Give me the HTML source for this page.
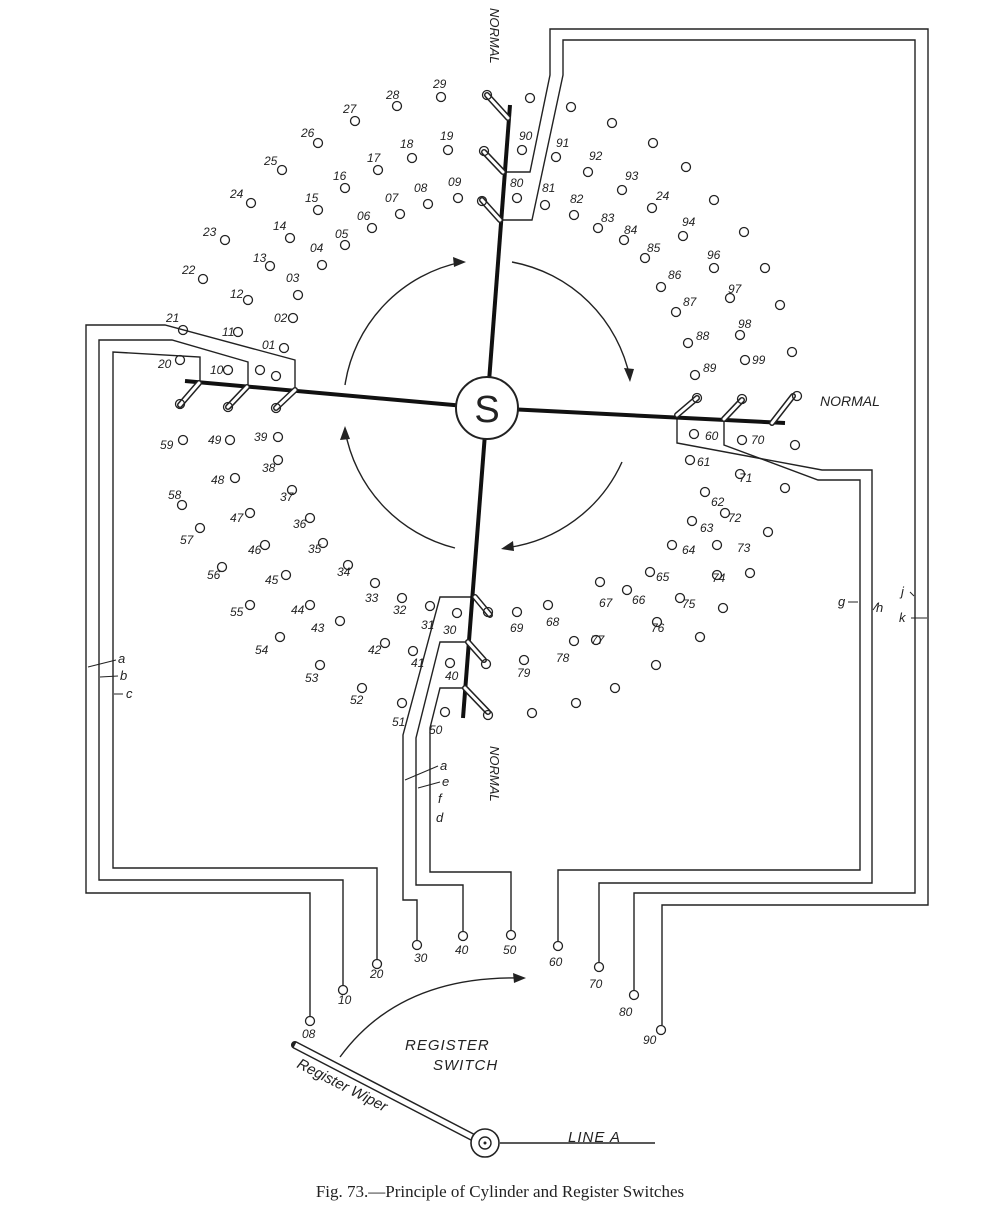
<!DOCTYPE html>
<html><head><meta charset="utf-8"><style>
html,body{margin:0;padding:0;background:#fff}
svg{display:block}
text{font-family:"Liberation Sans",sans-serif;fill:#222}
.n{font-size:12px;font-style:italic}
</style></head><body>
<svg width="1000" height="1224" viewBox="0 0 1000 1224" xmlns="http://www.w3.org/2000/svg">
<rect width="1000" height="1224" fill="#fff"/>
<g fill="none" stroke="#222" stroke-width="1.4">
<!-- left bundle -->
<polyline points="295,390 295,360 165,325 86,325 86,893 310,893 310,1016"/>
<polyline points="248,387 248,362 172,340 99,340 99,880 343,880 343,985"/>
<polyline points="200,383 200,357 113,352 113,868 377,868 377,959"/>
<!-- bottom bundle -->
<polyline points="475,597 440,597 403,735 403,900 417,900 417,940"/>
<polyline points="468,642 440,642 416,738 416,885 463,885 463,931"/>
<polyline points="465,688 440,688 430,728 430,872 511,872 511,930"/>
<!-- top bundle -->
<polyline points="503,172 530,172 550,75 550,29 928,29 928,905 662,905 662,1025"/>
<polyline points="500,220 532,220 563,75 563,40 915,40 915,893 634,893 634,990"/>
<!-- right bundle -->
<polyline points="677,415 677,443 822,470 872,470 872,883 599,883 599,962"/>
<polyline points="724,419 724,445 818,480 860,480 860,870 558,870 558,941"/>
</g>
<!-- arms -->
<g stroke="#111" stroke-width="4">
<line x1="487" y1="408" x2="510" y2="105"/>
<line x1="487" y1="408" x2="185" y2="381"/>
<line x1="487" y1="408" x2="785" y2="423"/>
<line x1="487" y1="408" x2="463" y2="718"/>
</g>
<!-- brushes -->
<g stroke="#222" stroke-width="6" stroke-linecap="round">
<line x1="508" y1="118" x2="487" y2="95"/><line x1="503" y1="172" x2="484" y2="152"/><line x1="500" y1="220" x2="482" y2="200"/>
<line x1="199" y1="383" x2="180" y2="405"/><line x1="247" y1="387" x2="228" y2="407"/><line x1="295" y1="390" x2="276" y2="408"/>
<line x1="677" y1="415" x2="697" y2="398"/><line x1="724" y1="419" x2="742" y2="400"/><line x1="772" y1="423" x2="793" y2="396"/>
<line x1="475" y1="597" x2="490" y2="615"/><line x1="468" y1="642" x2="484" y2="660"/><line x1="465" y1="688" x2="488" y2="712"/>
</g>
<g stroke="#fff" stroke-width="3" stroke-linecap="round">
<line x1="508" y1="118" x2="487" y2="95"/><line x1="503" y1="172" x2="484" y2="152"/><line x1="500" y1="220" x2="482" y2="200"/>
<line x1="199" y1="383" x2="180" y2="405"/><line x1="247" y1="387" x2="228" y2="407"/><line x1="295" y1="390" x2="276" y2="408"/>
<line x1="677" y1="415" x2="697" y2="398"/><line x1="724" y1="419" x2="742" y2="400"/><line x1="772" y1="423" x2="793" y2="396"/>
<line x1="475" y1="597" x2="490" y2="615"/><line x1="468" y1="642" x2="484" y2="660"/><line x1="465" y1="688" x2="488" y2="712"/>
</g>
<!-- center S -->
<circle cx="487" cy="408" r="31" fill="#fff" stroke="#222" stroke-width="2"/>
<text x="487" y="422" text-anchor="middle" font-size="38">S</text>
<!-- rotation arcs -->
<g fill="none" stroke="#222" stroke-width="1.4">
<path d="M512,262 A148,148 0 0 1 630,378"/>
<path d="M622,462 A148,148 0 0 1 505,548"/>
<path d="M455,548 A148,148 0 0 1 345,430"/>
<path d="M345,385 A148,148 0 0 1 462,262"/>
<path d="M340,1057 Q400,975 522,978"/>
</g>
<g fill="#222">
<polygon points="630,382 624,368 634,369"/>
<polygon points="501,549 513,541 514,551"/>
<polygon points="345,426 340,440 350,439"/>
<polygon points="466,262 453,257 454,267"/>
<polygon points="526,978 513,973 514,983"/>
</g>
<!-- contacts -->
<g fill="none" stroke="#222" stroke-width="1.3">
<circle cx="183" cy="330" r="4.5"/><circle cx="203" cy="279" r="4.5"/><circle cx="225" cy="240" r="4.5"/><circle cx="251" cy="203" r="4.5"/><circle cx="282" cy="170" r="4.5"/><circle cx="318" cy="143" r="4.5"/><circle cx="355" cy="121" r="4.5"/><circle cx="397" cy="106" r="4.5"/><circle cx="441" cy="97" r="4.5"/>
<circle cx="238" cy="332" r="4.5"/><circle cx="248" cy="300" r="4.5"/><circle cx="270" cy="266" r="4.5"/><circle cx="290" cy="238" r="4.5"/><circle cx="318" cy="210" r="4.5"/><circle cx="345" cy="188" r="4.5"/><circle cx="378" cy="170" r="4.5"/><circle cx="412" cy="158" r="4.5"/><circle cx="448" cy="150" r="4.5"/>
<circle cx="284" cy="348" r="4.5"/><circle cx="293" cy="318" r="4.5"/><circle cx="298" cy="295" r="4.5"/><circle cx="322" cy="265" r="4.5"/><circle cx="345" cy="245" r="4.5"/><circle cx="372" cy="228" r="4.5"/><circle cx="400" cy="214" r="4.5"/><circle cx="428" cy="204" r="4.5"/><circle cx="458" cy="198" r="4.5"/>
<circle cx="180" cy="360" r="4.5"/><circle cx="228" cy="370" r="4.5"/><circle cx="260" cy="370" r="4.5"/><circle cx="276" cy="376" r="4.5"/>
<circle cx="180" cy="404" r="4.5"/><circle cx="228" cy="407" r="4.5"/><circle cx="276" cy="408" r="4.5"/>
<circle cx="487" cy="95" r="4.5"/><circle cx="484" cy="151" r="4.5"/><circle cx="482" cy="201" r="4.5"/>
<circle cx="697" cy="398" r="4.5"/><circle cx="742" cy="399" r="4.5"/><circle cx="797" cy="396" r="4.5"/>
<circle cx="488" cy="612" r="4.5"/><circle cx="486" cy="664" r="4.5"/><circle cx="488" cy="715" r="4.5"/>
<circle cx="530" cy="98" r="4.5"/><circle cx="571" cy="107" r="4.5"/><circle cx="612" cy="123" r="4.5"/><circle cx="653" cy="143" r="4.5"/><circle cx="686" cy="167" r="4.5"/><circle cx="714" cy="200" r="4.5"/><circle cx="744" cy="232" r="4.5"/><circle cx="765" cy="268" r="4.5"/><circle cx="780" cy="305" r="4.5"/><circle cx="792" cy="352" r="4.5"/>
<circle cx="522" cy="150" r="4.5"/><circle cx="556" cy="157" r="4.5"/><circle cx="588" cy="172" r="4.5"/><circle cx="622" cy="190" r="4.5"/><circle cx="652" cy="208" r="4.5"/><circle cx="683" cy="236" r="4.5"/><circle cx="714" cy="268" r="4.5"/><circle cx="730" cy="298" r="4.5"/><circle cx="740" cy="335" r="4.5"/><circle cx="745" cy="360" r="4.5"/>
<circle cx="517" cy="198" r="4.5"/><circle cx="545" cy="205" r="4.5"/><circle cx="574" cy="215" r="4.5"/><circle cx="598" cy="228" r="4.5"/><circle cx="624" cy="240" r="4.5"/><circle cx="645" cy="258" r="4.5"/><circle cx="661" cy="287" r="4.5"/><circle cx="676" cy="312" r="4.5"/><circle cx="688" cy="343" r="4.5"/><circle cx="695" cy="375" r="4.5"/>
<circle cx="694" cy="434" r="4.5"/><circle cx="742" cy="440" r="4.5"/><circle cx="795" cy="445" r="4.5"/>
<circle cx="690" cy="460" r="4.5"/><circle cx="740" cy="474" r="4.5"/><circle cx="785" cy="488" r="4.5"/>
<circle cx="705" cy="492" r="4.5"/><circle cx="725" cy="513" r="4.5"/><circle cx="768" cy="532" r="4.5"/>
<circle cx="692" cy="521" r="4.5"/><circle cx="717" cy="545" r="4.5"/><circle cx="750" cy="573" r="4.5"/>
<circle cx="672" cy="545" r="4.5"/><circle cx="650" cy="572" r="4.5"/><circle cx="717" cy="575" r="4.5"/><circle cx="680" cy="598" r="4.5"/><circle cx="723" cy="608" r="4.5"/>
<circle cx="627" cy="590" r="4.5"/><circle cx="657" cy="622" r="4.5"/><circle cx="700" cy="637" r="4.5"/>
<circle cx="600" cy="582" r="4.5"/><circle cx="596" cy="640" r="4.5"/><circle cx="656" cy="665" r="4.5"/>
<circle cx="548" cy="605" r="4.5"/><circle cx="574" cy="641" r="4.5"/><circle cx="615" cy="688" r="4.5"/>
<circle cx="517" cy="612" r="4.5"/><circle cx="524" cy="660" r="4.5"/><circle cx="576" cy="703" r="4.5"/><circle cx="532" cy="713" r="4.5"/>
<circle cx="183" cy="440" r="4.5"/><circle cx="230" cy="440" r="4.5"/><circle cx="278" cy="437" r="4.5"/>
<circle cx="182" cy="505" r="4.5"/><circle cx="235" cy="478" r="4.5"/><circle cx="278" cy="460" r="4.5"/>
<circle cx="200" cy="528" r="4.5"/><circle cx="250" cy="513" r="4.5"/><circle cx="292" cy="490" r="4.5"/>
<circle cx="222" cy="567" r="4.5"/><circle cx="265" cy="545" r="4.5"/><circle cx="310" cy="518" r="4.5"/>
<circle cx="250" cy="605" r="4.5"/><circle cx="286" cy="575" r="4.5"/><circle cx="323" cy="543" r="4.5"/>
<circle cx="280" cy="637" r="4.5"/><circle cx="310" cy="605" r="4.5"/><circle cx="348" cy="565" r="4.5"/>
<circle cx="320" cy="665" r="4.5"/><circle cx="340" cy="621" r="4.5"/><circle cx="375" cy="583" r="4.5"/>
<circle cx="362" cy="688" r="4.5"/><circle cx="385" cy="643" r="4.5"/><circle cx="402" cy="598" r="4.5"/>
<circle cx="402" cy="703" r="4.5"/><circle cx="413" cy="651" r="4.5"/><circle cx="430" cy="606" r="4.5"/>
<circle cx="445" cy="712" r="4.5"/><circle cx="450" cy="663" r="4.5"/><circle cx="457" cy="613" r="4.5"/>
<!-- register -->
<circle cx="310" cy="1021" r="4.5"/><circle cx="343" cy="990" r="4.5"/><circle cx="377" cy="964" r="4.5"/><circle cx="417" cy="945" r="4.5"/><circle cx="463" cy="936" r="4.5"/><circle cx="511" cy="935" r="4.5"/><circle cx="558" cy="946" r="4.5"/><circle cx="599" cy="967" r="4.5"/><circle cx="634" cy="995" r="4.5"/><circle cx="661" cy="1030" r="4.5"/>
</g>
<g class="n">
<text class="n" x="166" y="322">21</text><text class="n" x="182" y="274">22</text><text class="n" x="203" y="236">23</text><text class="n" x="230" y="198">24</text><text class="n" x="264" y="165">25</text><text class="n" x="301" y="137">26</text><text class="n" x="343" y="113">27</text><text class="n" x="386" y="99">28</text><text class="n" x="433" y="88">29</text>
<text class="n" x="222" y="336">11</text><text class="n" x="230" y="298">12</text><text class="n" x="253" y="262">13</text><text class="n" x="273" y="230">14</text><text class="n" x="305" y="202">15</text><text class="n" x="333" y="180">16</text><text class="n" x="367" y="162">17</text><text class="n" x="400" y="148">18</text><text class="n" x="440" y="140">19</text>
<text class="n" x="262" y="349">01</text><text class="n" x="274" y="322">02</text><text class="n" x="286" y="282">03</text><text class="n" x="310" y="252">04</text><text class="n" x="335" y="238">05</text><text class="n" x="357" y="220">06</text><text class="n" x="385" y="202">07</text><text class="n" x="414" y="192">08</text><text class="n" x="448" y="186">09</text>
<text class="n" x="158" y="368">20</text><text class="n" x="210" y="374">10</text>
<text class="n" x="519" y="140">90</text><text class="n" x="556" y="147">91</text><text class="n" x="589" y="160">92</text><text class="n" x="625" y="180">93</text><text class="n" x="656" y="200">24</text><text class="n" x="682" y="226">94</text><text class="n" x="707" y="259">96</text><text class="n" x="728" y="293">97</text><text class="n" x="738" y="328">98</text><text class="n" x="752" y="364">99</text>
<text class="n" x="510" y="187">80</text><text class="n" x="542" y="192">81</text><text class="n" x="570" y="203">82</text><text class="n" x="601" y="222">83</text><text class="n" x="624" y="234">84</text><text class="n" x="647" y="252">85</text><text class="n" x="668" y="279">86</text><text class="n" x="683" y="306">87</text><text class="n" x="696" y="340">88</text><text class="n" x="703" y="372">89</text>
<text class="n" x="705" y="440">60</text><text class="n" x="751" y="444">70</text><text class="n" x="697" y="466">61</text><text class="n" x="739" y="482">71</text><text class="n" x="711" y="506">62</text><text class="n" x="728" y="522">72</text><text class="n" x="700" y="532">63</text><text class="n" x="737" y="552">73</text><text class="n" x="682" y="554">64</text><text class="n" x="656" y="581">65</text><text class="n" x="712" y="582">74</text><text class="n" x="682" y="608">75</text><text class="n" x="632" y="604">66</text><text class="n" x="651" y="632">76</text><text class="n" x="599" y="607">67</text><text class="n" x="591" y="644">77</text><text class="n" x="546" y="626">68</text><text class="n" x="556" y="662">78</text><text class="n" x="510" y="632">69</text><text class="n" x="517" y="677">79</text>
<text class="n" x="160" y="449">59</text><text class="n" x="208" y="444">49</text><text class="n" x="254" y="441">39</text><text class="n" x="168" y="499">58</text><text class="n" x="211" y="484">48</text><text class="n" x="262" y="472">38</text><text class="n" x="180" y="544">57</text><text class="n" x="230" y="522">47</text><text class="n" x="280" y="501">37</text><text class="n" x="207" y="579">56</text><text class="n" x="248" y="554">46</text><text class="n" x="293" y="528">36</text><text class="n" x="230" y="616">55</text><text class="n" x="265" y="584">45</text><text class="n" x="308" y="553">35</text><text class="n" x="255" y="654">54</text><text class="n" x="291" y="614">44</text><text class="n" x="337" y="576">34</text><text class="n" x="305" y="682">53</text><text class="n" x="311" y="632">43</text><text class="n" x="365" y="602">33</text><text class="n" x="350" y="704">52</text><text class="n" x="368" y="654">42</text><text class="n" x="393" y="614">32</text><text class="n" x="392" y="726">51</text><text class="n" x="411" y="667">41</text><text class="n" x="421" y="629">31</text><text class="n" x="429" y="734">50</text><text class="n" x="445" y="680">40</text><text class="n" x="443" y="634">30</text>
<text class="n" x="302" y="1038">08</text><text class="n" x="338" y="1004">10</text><text class="n" x="370" y="978">20</text><text class="n" x="414" y="962">30</text><text class="n" x="455" y="954">40</text><text class="n" x="503" y="954">50</text><text class="n" x="549" y="966">60</text><text class="n" x="589" y="988">70</text><text class="n" x="619" y="1016">80</text><text class="n" x="643" y="1044">90</text>
</g>
<!-- small letter labels -->
<g font-size="13" font-style="italic">
<text x="118" y="663">a</text><text x="120" y="680">b</text><text x="126" y="698">c</text>
<text x="440" y="770">a</text><text x="442" y="786">e</text><text x="438" y="803">f</text><text x="436" y="822">d</text>
<text x="838" y="606">g</text><text x="876" y="612">h</text><text x="901" y="596">j</text><text x="899" y="622">k</text>
</g>
<g stroke="#222" stroke-width="1" fill="none">
<line x1="116" y1="660" x2="88" y2="667"/><line x1="118" y1="676" x2="100" y2="677"/><line x1="123" y1="694" x2="114" y2="694"/>
<line x1="438" y1="766" x2="405" y2="780"/><line x1="440" y1="782" x2="418" y2="788"/>
<line x1="848" y1="602" x2="858" y2="602"/><line x1="878" y1="603" x2="873" y2="610"/><line x1="910" y1="592" x2="914" y2="596"/><line x1="911" y1="618" x2="927" y2="618"/>
</g>
<!-- NORMAL labels -->
<text x="0" y="0" font-size="13" font-style="italic" transform="translate(490,8) rotate(90)">NORMAL</text>
<text x="820" y="406" font-size="14" font-style="italic">NORMAL</text>
<text x="0" y="0" font-size="13" font-style="italic" transform="translate(490,746) rotate(90)">NORMAL</text>
<!-- register switch -->
<g font-size="15" font-style="italic" letter-spacing="1">
<text x="405" y="1050">REGISTER</text><text x="433" y="1070">SWITCH</text>
<text x="568" y="1142">LINE A</text>
</g>
<line x1="295" y1="1045" x2="478" y2="1140" stroke="#222" stroke-width="8" stroke-linecap="round"/>
<line x1="295" y1="1045" x2="478" y2="1140" stroke="#fff" stroke-width="5"/>
<circle cx="485" cy="1143" r="14" fill="#fff" stroke="#222" stroke-width="1.6"/>
<circle cx="485" cy="1143" r="6" fill="none" stroke="#222" stroke-width="1.4"/>
<circle cx="485" cy="1143" r="1.5" fill="#222"/>
<line x1="500" y1="1143" x2="655" y2="1143" stroke="#222" stroke-width="1.4"/>
<text x="0" y="0" font-size="15" font-style="italic" transform="translate(296,1067) rotate(27)">Register Wiper</text>
<text x="500" y="1197" text-anchor="middle" font-family="Liberation Serif, serif" font-size="17" style="font-family:'Liberation Serif',serif">Fig. 73.—Principle of Cylinder and Register Switches</text>
</svg>
</body></html>
